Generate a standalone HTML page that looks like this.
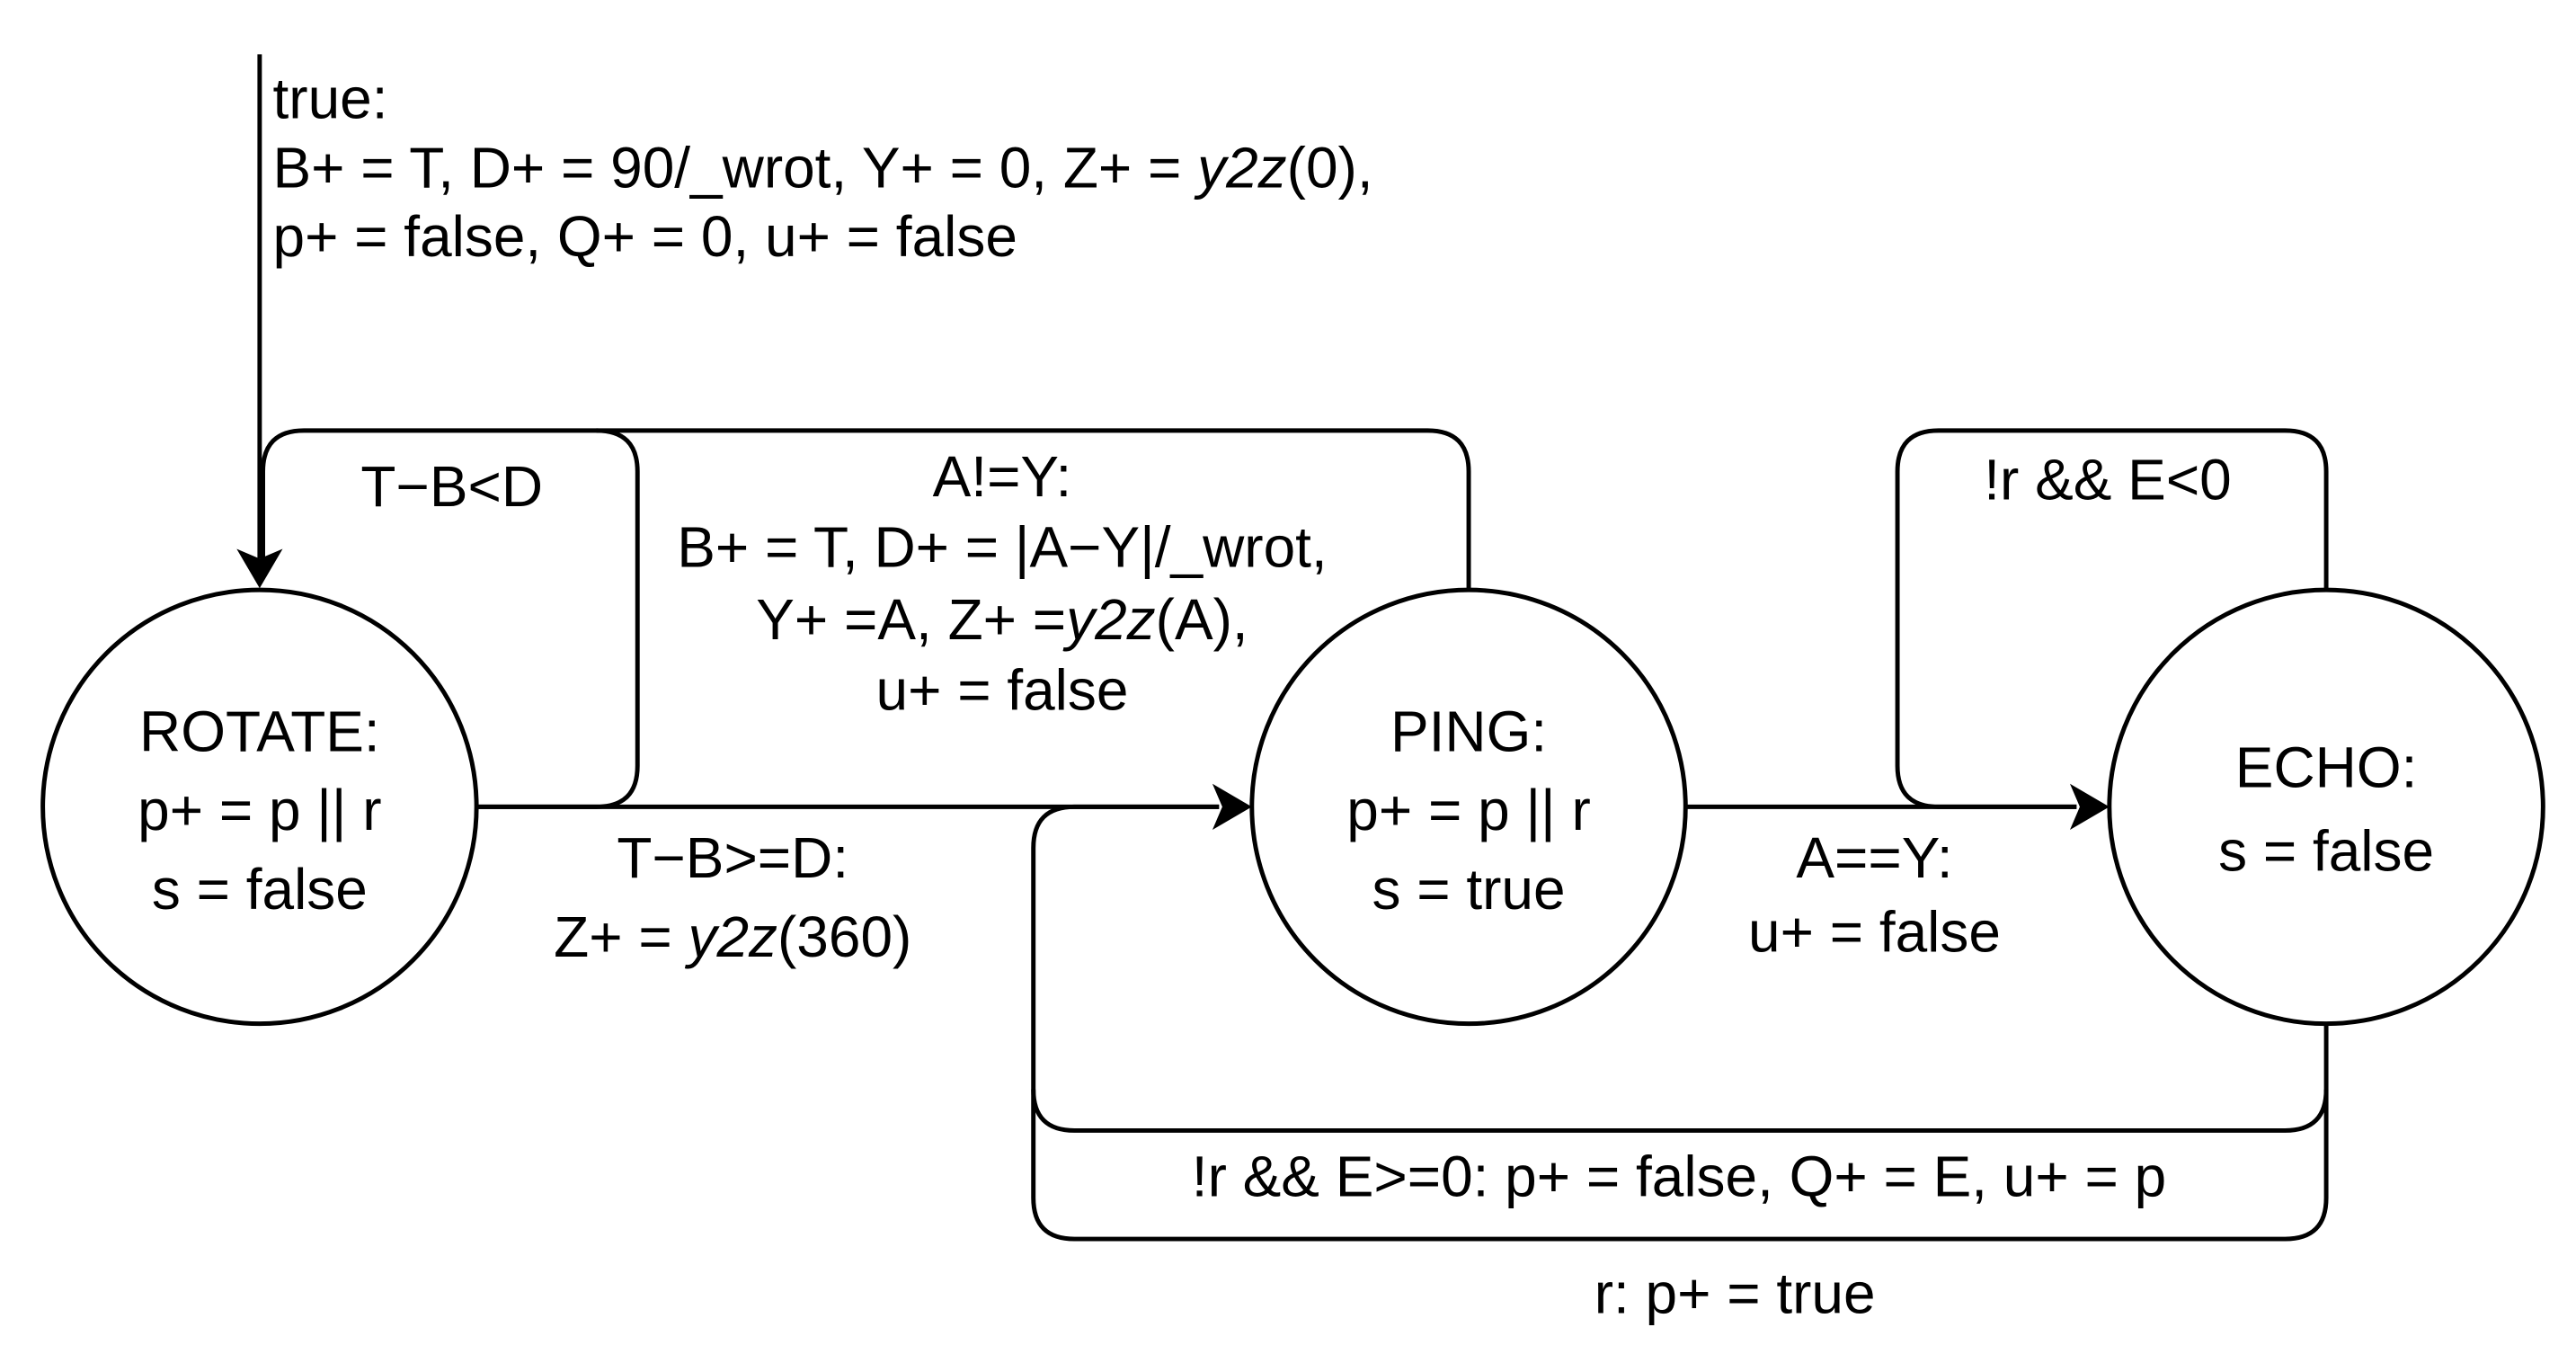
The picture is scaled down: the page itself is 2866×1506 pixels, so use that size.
<!DOCTYPE html>
<html><head><meta charset="utf-8"><style>
html,body{margin:0;padding:0;background:#fff;}
svg{display:block;}
text{font-family:"Liberation Sans",Arial,sans-serif;font-size:35px;fill:#000;dominant-baseline:central;}
</style></head><body>
<svg width="2866" height="1506" viewBox="0 0 1568 824" xmlns="http://www.w3.org/2000/svg">
<defs>
<marker id="ah" markerWidth="10" markerHeight="10" refX="9" refY="5" orient="auto" markerUnits="userSpaceOnUse" viewBox="0 0 10 10">
</marker>
</defs>
<g fill="none" stroke="#000" stroke-width="2.7">
<!-- initial arrow -->
<line x1="158" y1="33" x2="158" y2="340"/>
<!-- circles -->
<circle cx="158" cy="491" r="132"/>
<circle cx="894" cy="491" r="132"/>
<circle cx="1416" cy="491" r="132"/>
<!-- ROTATE self loop + A!=Y -->
<path d="M290 491 H363 Q388 491 388 466 V287 Q388 262 363 262 H185 Q160 262 160 287 V340"/>
<path d="M894 359 V287 Q894 262 869 262 H363"/>
<!-- ROTATE -> PING -->
<line x1="290" y1="491" x2="742" y2="491"/>
<!-- PING -> ECHO -->
<line x1="1025" y1="491" x2="1264" y2="491"/>
<!-- ECHO self loop -->
<path d="M1416 359 V287 Q1416 262 1391 262 H1180 Q1155 262 1155 287 V466 Q1155 491 1180 491 H1264"/>
<!-- ECHO -> PING loops -->
<path d="M1416 623 V663 Q1416 688 1391 688 H654 Q629 688 629 663 V516 Q629 491 654 491 H742"/>
<path d="M1416 663 V729 Q1416 754 1391 754 H654 Q629 754 629 729 V663"/>
</g>
<g fill="#000">
<polygon points="158,358 144,334 158,340 172,334"/>
<polygon points="762,491 738,477 744,491 738,505"/>
<polygon points="1284,491 1260,477 1266,491 1260,505"/>
</g>
<text x="166" y="60">true:</text>
<text x="166" y="102">B+ = T, D+ = 90/_wrot, Y+ =  0, Z+ = <tspan font-style="italic">y2z</tspan>(0),</text>
<text x="166" y="144">p+ = false, Q+ = 0, u+ = false</text>
<g text-anchor="middle">
<text x="158" y="445">ROTATE:</text>
<text x="158" y="493">p+ = p || r</text>
<text x="158" y="541">s = false</text>
<text x="894" y="445">PING:</text>
<text x="894" y="493">p+ = p || r</text>
<text x="894" y="541">s = true</text>
<text x="1416" y="467">ECHO:</text>
<text x="1416" y="518">s = false</text>
<text x="275" y="296">T−B&lt;D</text>
<text x="610" y="290">A!=Y:</text>
<text x="610" y="333">B+ = T, D+ = |A−Y|/_wrot,</text>
<text x="610" y="377">Y+ =A, Z+ =<tspan font-style="italic">y2z</tspan>(A),</text>
<text x="610" y="420">u+ = false</text>
<text x="446" y="522">T−B&gt;=D:</text>
<text x="446" y="570">Z+ = <tspan font-style="italic">y2z</tspan>(360)</text>
<text x="1141" y="522">A==Y:</text>
<text x="1141" y="567">u+ = false</text>
<text x="1283" y="292">!r &amp;&amp; E&lt;0</text>
<text x="1022" y="716">!r &amp;&amp; E&gt;=0: p+ = false, Q+ = E, u+ = p</text>
<text x="1056" y="787">r: p+ = true</text>
</g>
</svg>
</body></html>
